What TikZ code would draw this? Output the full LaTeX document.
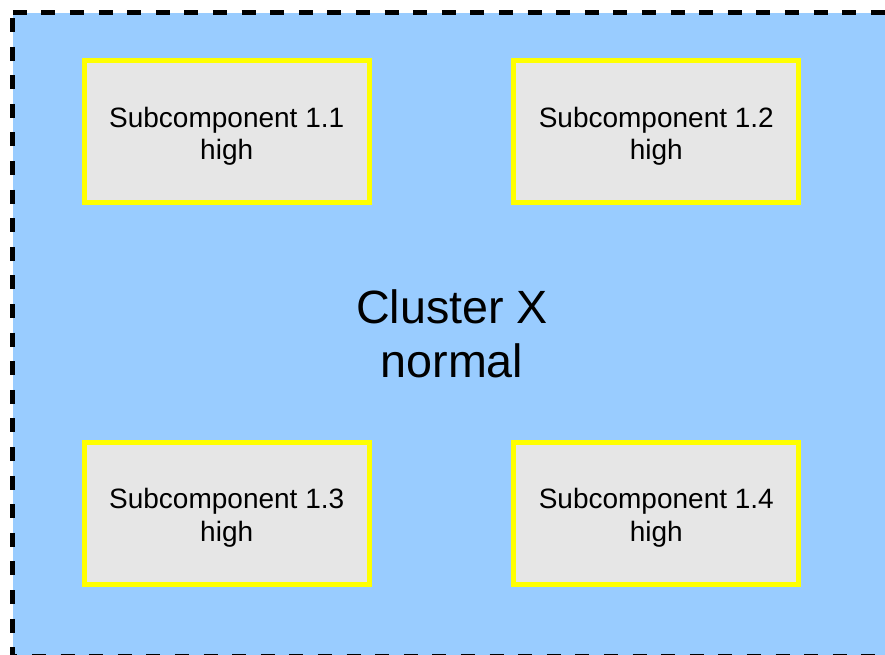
\documentclass[tikz,border=0pt]{standalone}
\usepackage{fontspec}
\setmainfont{Liberation Sans}
\definecolor{clusterblue}{RGB}{153,204,255}
\definecolor{subgray}{RGB}{230,230,230}
\definecolor{subyellow}{RGB}{255,255,0}
\begin{document}
\begin{tikzpicture}[x=0.75pt,y=-0.75pt,
  outline/.style={line width=3.4pt, black, dash pattern=on 10.5pt off 10.95pt},
  subbox/.style={rectangle, draw=subyellow, fill=subgray, line width=3.75pt,
    minimum width=213.75pt, minimum height=106.5pt, inner sep=0pt},
  subtext/.style={align=center, font=\fontsize{21}{24.5}\selectfont, inner sep=0pt},
  clustertext/.style={align=center, font=\fontsize{35}{40.8}\selectfont, inner sep=0pt}]
\useasboundingbox (0,0) rectangle (885,655);
\clip (0,0) rectangle (885,655);
% cluster area with dashed outline
\coordinate (tl) at (12.75,12.75);
\coordinate (tr) at (891.25,12.75);
\coordinate (br) at (891.25,656.5);
\coordinate (bl) at (12.75,656.5);
\fill[clusterblue] (tl) rectangle (br);
\draw[outline] (tl) -- (tr);
\draw[outline, dash phase=17.5pt] (tl) -- (bl);
\draw[outline, dash phase=7.05pt] (bl) -- (br);
\draw[outline] (tr) -- (br);
% cluster label
\node[clustertext] (cl) at (452,334) {Cluster X\\normal};
% subcomponents
\node[subbox] (b11) at (226.7,132) {};
\node[subbox] (b12) at (656.3,132) {};
\node[subbox] (b13) at (226.7,513.3) {};
\node[subbox] (b14) at (656.3,513.3) {};
\node[subtext] (t11) at (226.7,136.4) {Subcomponent 1.1\\high};
\node[subtext] (t12) at (656.3,136.4) {Subcomponent 1.2\\high};
\node[subtext] (t13) at (226.7,517.7) {Subcomponent 1.3\\high};
\node[subtext] (t14) at (656.3,517.7) {Subcomponent 1.4\\high};
\end{tikzpicture}
\end{document}
